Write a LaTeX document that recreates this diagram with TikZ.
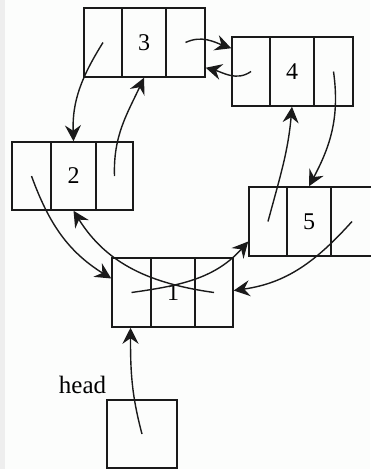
\documentclass[tikz,border=0pt]{standalone}
\usepackage{fontspec}
\setmainfont{Liberation Serif}
\usetikzlibrary{arrows.meta}
\definecolor{ink}{HTML}{1A1A1A}
\definecolor{strip}{HTML}{EEEEEE}
\definecolor{paper}{HTML}{FCFDFC}
\begin{document}
\begin{tikzpicture}[x=1pt,y=1pt,
  cell/.style={draw=ink,line width=1.5pt,inner sep=0pt,minimum height=69pt,font=\fontsize{24}{24}\selectfont},
  link/.style={draw=ink,line width=1.4pt,-{Stealth[length=16pt,width=16pt,inset=5.5pt]}}]
\useasboundingbox (0,0) rectangle (370,-469);
\fill[paper] (0,0) rectangle (370,-469);
\fill[strip] (0,0) rectangle (5,-469);
% box 3
\node[cell,minimum width=38pt] (a3) at (103,-42.5) {};
\node[cell,minimum width=44pt] (b3) at (144,-42.5) {3};
\node[cell,minimum width=39pt] (c3) at (185.5,-42.5) {};
% box 4
\node[cell,minimum width=38pt] (a4) at (251,-71.5) {};
\node[cell,minimum width=44pt] (b4) at (292,-71.5) {4};
\node[cell,minimum width=39pt] (c4) at (333.5,-71.5) {};
% box 2
\node[cell,minimum width=39pt,minimum height=68pt] (a2) at (31.5,-176) {};
\node[cell,minimum width=45pt,minimum height=68pt] (b2) at (73.5,-176) {2};
\node[cell,minimum width=37pt,minimum height=68pt] (c2) at (114.5,-176) {};
% box 5
\node[cell,minimum width=38pt] (a5) at (268,-221.5) {};
\node[cell,minimum width=44pt] (b5) at (309,-221.5) {5};
\node[cell,minimum width=42pt] (c5) at (352,-221.5) {};
% box 1
\node[cell,minimum width=39pt] (a1) at (131.5,-292.5) {};
\node[cell,minimum width=44pt] (b1) at (173,-292.5) {1};
\node[cell,minimum width=38pt] (c1) at (214,-292.5) {};
% head
\node[cell,minimum width=70pt,minimum height=68pt] (hd) at (142,-434) {};
\node[anchor=base,inner sep=0pt,font=\fontsize{25}{25}\selectfont] (hl) at (82.5,-393) {head};
% links
\draw[link] (a3.center) to[out=238,in=92] (b2.north);
\draw[link] (c2.center) to[out=92,in=245] (b3.south);
\draw[link] (c3.center) to[out=25,in=160] ([yshift=-12pt]a4.north west);
\draw[link] (a4.center) to[out=215,in=-15] ([yshift=10pt]c3.south east);
\draw[link] (c4.center) to[out=-82,in=62] (b5.north);
\draw[link] (a5.center) to[out=75,in=-95] (b4.south);
\draw[link] (c5.center) to[out=228,in=8] ([yshift=2pt]c1.east);
\draw[link] (a2.center) to[out=-70,in=148] ([yshift=14pt]a1.west);
\draw[link] (a1.center) to[out=8,in=228] ([yshift=-20pt]a5.west);
\draw[link] (c1.center) to[out=172,in=-58] (b2.south);
\draw[link] (hd.center) to[out=105,in=-90] ([xshift=-1pt]a1.south);
\end{tikzpicture}
\end{document}
